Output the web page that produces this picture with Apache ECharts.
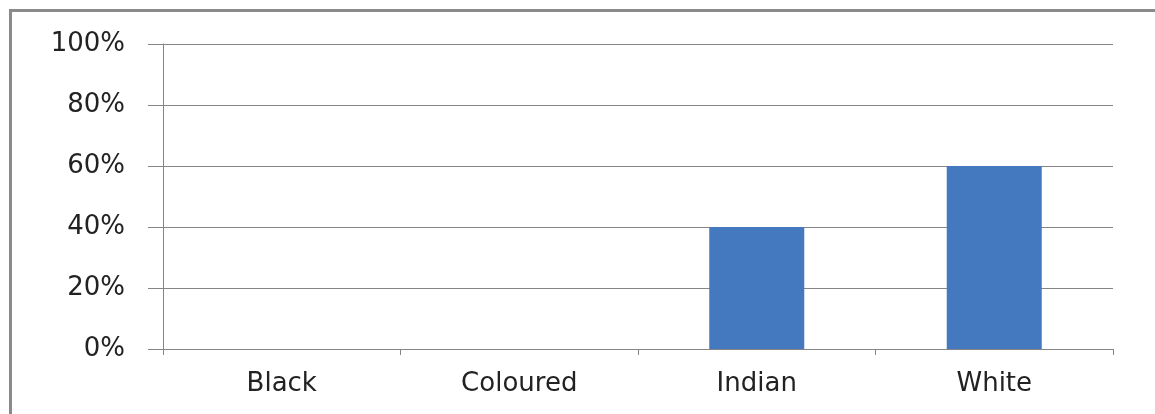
<!DOCTYPE html>
<html>
<head>
<meta charset="utf-8">
<script src="https://cdn.jsdelivr.net/npm/echarts@6/dist/echarts.min.js"></script>
<style>
  html, body { margin: 0; padding: 0; background: #fff; }
  #frame {
    position: absolute; left: 9px; top: 9px; width: 1160px; height: 420px;
    border-left: 3px solid #8a8a8a; border-top: 3px solid #8a8a8a;
  }
  #chart { position: absolute; left: 0; top: 0; width: 1155px; height: 414px; }
</style>
</head>
<body>
<div id="frame"></div>
<div id="chart"></div>
<script>
window.addEventListener('load', function () {

    let categories = ['Black', 'Coloured', 'Indian', 'White']
    let shares = [0, 0, 40, 60]
    let yTicks = [0, 20, 40, 60, 80, 100]

    let chart = echarts.init(document.getElementById('chart'))
    chart.setOption({
        animation: false,
        grid: { left: 163, right: 42, top: 44, bottom: 65 },
        xAxis: {
            type: 'category',
            data: categories,
            axisLine: { lineStyle: { color: '#858585', width: 1 } },
            axisTick: { show: true, length: 6, lineStyle: { color: '#858585' } },
            axisLabel: {
                margin: 22, color: '#222', fontSize: 26,
                fontFamily: 'DejaVu Sans'
            }
        },
        yAxis: {
            type: 'value',
            min: yTicks[0],
            max: yTicks[yTicks.length - 1],
            interval: 20,
            axisLine: { show: true, lineStyle: { color: '#858585', width: 1 } },
            axisTick: { show: true, length: 15, lineStyle: { color: '#858585' } },
            splitLine: { lineStyle: { color: '#858585', width: 1 } },
            axisLabel: {
                margin: 38, color: '#222', fontSize: 26,
                fontFamily: 'DejaVu Sans',
                formatter: v => v + '%'
            }
        },
        series: [{
            type: 'bar',
            data: shares,
            barWidth: '40%',
            itemStyle: { color: '#4479c0' }
        }]
    })
})
</script>
</body>
</html>
